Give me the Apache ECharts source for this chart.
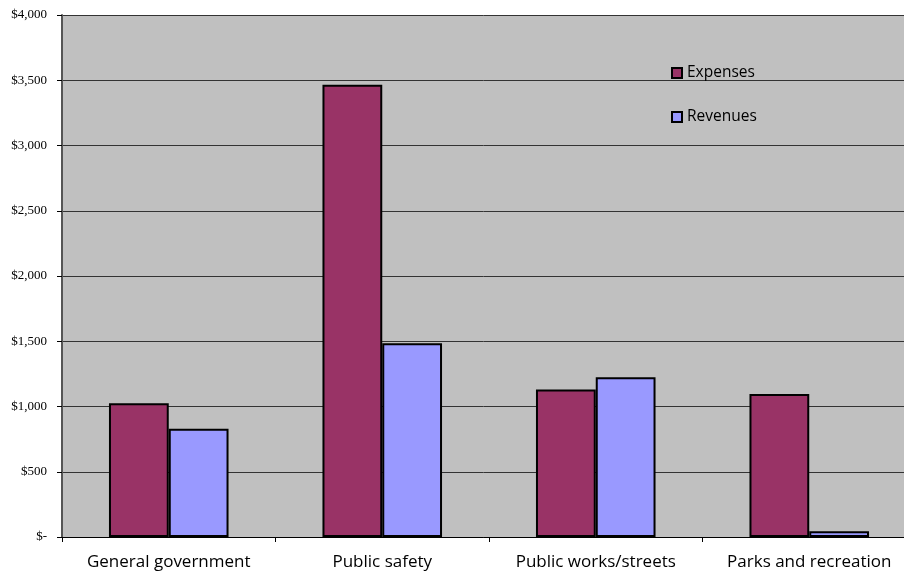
<!DOCTYPE html>
<html>
<head>
<meta charset="utf-8">
<script src="https://cdn.jsdelivr.net/npm/echarts@6/dist/echarts.min.js"></script>
<style>
  html, body { margin: 0; padding: 0; background: #fff; }
  #main { width: 904px; height: 573px; }
</style>
</head>
<body>
<div id="main"></div>
<script>
var categories = ['General government', 'Public safety', 'Public works/streets', 'Parks and recreation'];
var expenses = [1025, 3465, 1130, 1095];
var revenues = [830, 1485, 1225, 45];

var app = echarts.init(document.getElementById('main'));

function money(v) {
    if (v === 0) return '$-';
    return '$' + v.toLocaleString('en-US');
}

var option = {
    backgroundColor: '#ffffff',
    animation: false,
    legend: {
        orient: 'vertical',
        left: 666,
        top: 60,
        icon: 'rect',
        itemWidth: 10,
        itemHeight: 10,
        itemGap: 28,
        textStyle: {
            fontFamily: 'Open Sans',
            fontSize: 15.5,
            color: '#000'
        },
        data: ['Expenses', 'Revenues']
    },
    grid: {
        left: 62,
        top: 15,
        width: 854,
        height: 522,
        outerBoundsMode: 'none',
        containLabel: false,
        show: true,
        backgroundColor: '#c0c0c0',
        borderWidth: 0
    },
    xAxis: {
        type: 'category',
        data: categories,
        axisLine: { lineStyle: { color: '#000', width: 1 } },
        axisTick: { show: true, interval: 0, length: 5, lineStyle: { color: '#000' } },
        axisLabel: {
            interval: 0,
            hideOverlap: false,
            fontFamily: 'Open Sans',
            fontSize: 17,
            color: '#000',
            margin: 17
        }
    },
    yAxis: {
        type: 'value',
        min: 0,
        max: 4000,
        interval: 500,
        axisLine: { show: true, lineStyle: { color: '#555', width: 2 } },
        axisTick: { show: true, length: 5, lineStyle: { color: '#000' } },
        splitLine: { lineStyle: { color: '#333', width: 1 } },
        axisLabel: {
            fontFamily: 'Liberation Serif',
            fontSize: 13,
            color: '#000',
            margin: 15,
            formatter: money
        }
    },
    series: [
        {
            name: 'Expenses',
            type: 'bar',
            data: expenses,
            barWidth: '28%',
            barGap: '0%',
            itemStyle: { color: '#993366', borderColor: '#000', borderWidth: 2 }
        },
        {
            name: 'Revenues',
            type: 'bar',
            data: revenues,
            barWidth: '28%',
            itemStyle: { color: '#9999ff', borderColor: '#000', borderWidth: 2 }
        }
    ]
};

app.setOption(option);
</script>
</body>
</html>
